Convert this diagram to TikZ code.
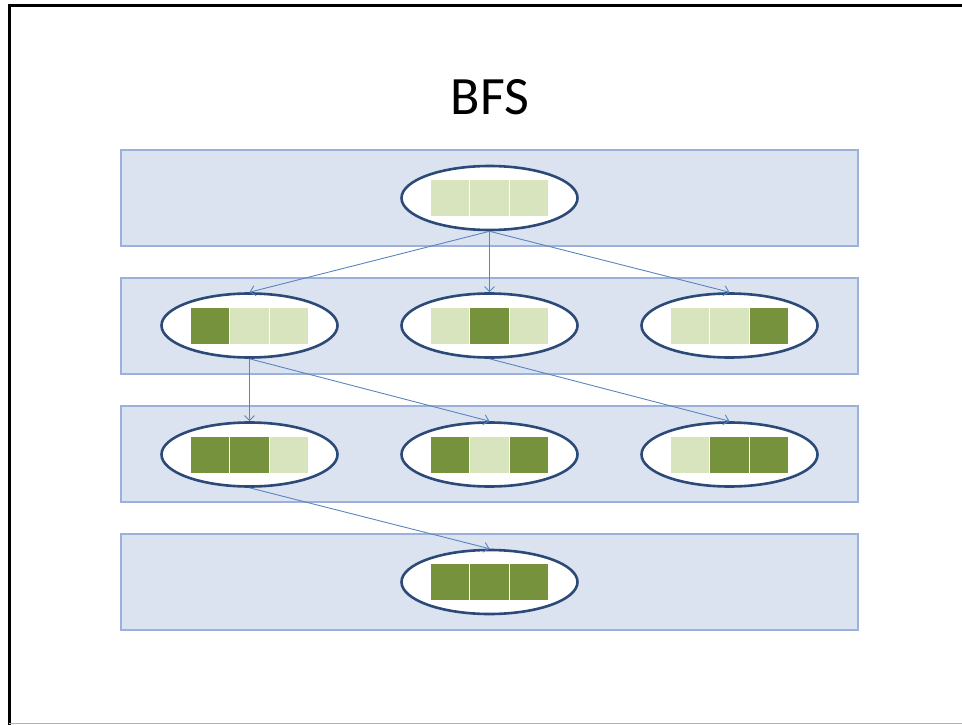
\documentclass[tikz,border=0pt]{standalone}
\usepackage{fontspec}
\setmainfont{Carlito}
\usetikzlibrary{shapes.geometric,arrows.meta,calc}
\definecolor{bandfill}{HTML}{DBE3F0}
\definecolor{bandline}{HTML}{9BB1DA}
\definecolor{ringline}{HTML}{2C4A78}
\definecolor{cellpale}{HTML}{D7E4BD}
\definecolor{celldark}{HTML}{76923C}
\definecolor{linkblue}{HTML}{5B84C0}

% three cells inside a state: #1 node name, #2 list of three fill colours
\newcommand\statecells[2]{%
  \foreach \c [count=\i] in {#2} {%
    \pgfmathsetmacro\cellx{-59+(\i-1)*39.33}%
    \filldraw[fill=\c, draw=white, line width=0.9pt]
      ($(#1)+(\cellx,-18.5)$) rectangle +(39.33,37);
  }%
}

\begin{document}
\begin{tikzpicture}[x=1pt,y=-1pt,
  band/.style={draw=bandline, fill=bandfill, line width=1.8pt},
  state/.style={ellipse, draw=ringline, fill=white, line width=2.6pt,
    minimum width=176pt, minimum height=64pt, inner sep=0pt},
  link/.style={draw=linkblue, line width=0.9pt,
    -{Straight Barb[length=5pt,width=10pt]}}]
\useasboundingbox (0,0) rectangle (962,725);

% slide frame
\draw[black, line width=3pt] (9,725) -- (9,6) -- (962,6);
\draw[black!30, line width=1.5pt] (9,723.5) -- (962,723.5);

% title
\node (title) at (490,97) {\fontsize{54}{60}\selectfont BFS};

% level bands
\draw[band] (121,150) rectangle (858,246);
\draw[band] (121,278) rectangle (858,374);
\draw[band] (121,406) rectangle (858,502);
\draw[band] (121,534) rectangle (858,630);

% states
\node[state] (s0)  at (489.5,198) {};
\node[state] (s1a) at (249.5,325.5) {};
\node[state] (s1b) at (489.5,325.5) {};
\node[state] (s1c) at (729.5,325.5) {};
\node[state] (s2a) at (249.5,454.5) {};
\node[state] (s2b) at (489.5,454.5) {};
\node[state] (s2c) at (729.5,454.5) {};
\node[state] (s3)  at (489.5,582) {};

\statecells{s0}{cellpale,cellpale,cellpale}
\statecells{s1a}{celldark,cellpale,cellpale}
\statecells{s1b}{cellpale,celldark,cellpale}
\statecells{s1c}{cellpale,cellpale,celldark}
\statecells{s2a}{celldark,celldark,cellpale}
\statecells{s2b}{celldark,cellpale,celldark}
\statecells{s2c}{cellpale,celldark,celldark}
\statecells{s3}{celldark,celldark,celldark}

% search edges
\draw[link] (s0.south) -- (s1a.north);
\draw[link] (s0.south) -- (s1b.north);
\draw[link] (s0.south) -- (s1c.north);
\draw[link] (s1a.south) -- (s2a.north);
\draw[link] (s1a.south) -- (s2b.north);
\draw[link] (s1b.south) -- (s2c.north);
\draw[link] (s2a.south) -- (s3.north);
\end{tikzpicture}
\end{document}
